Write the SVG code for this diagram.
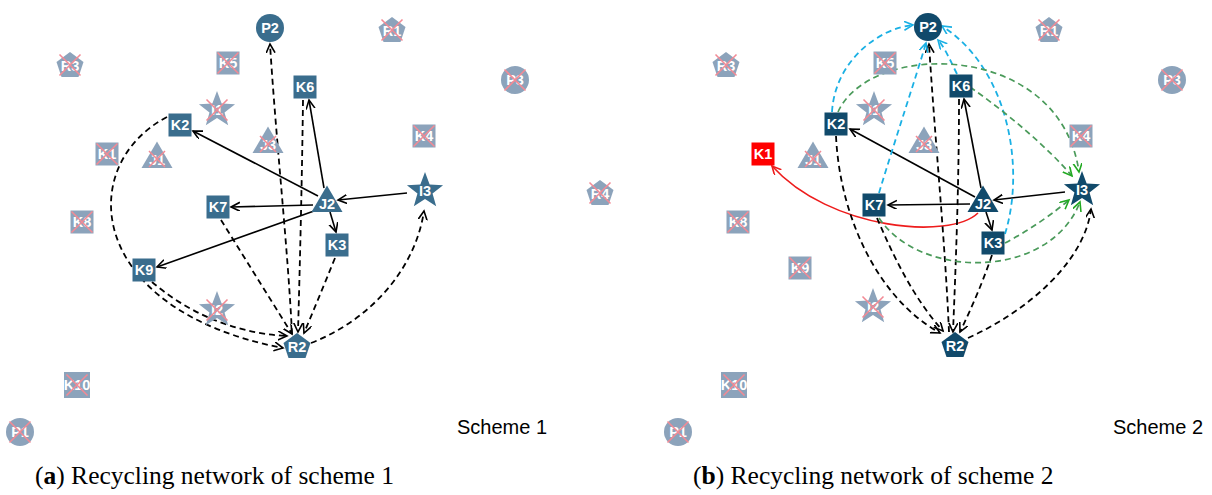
<svg xmlns="http://www.w3.org/2000/svg" xmlns:xlink="http://www.w3.org/1999/xlink" width="1212" height="495" viewBox="0 0 1212 495">
<style>
.a{fill:#3a6d8d}
.b{fill:#114a6b}
.off{fill:#8ca3bb}
.red{fill:#ff0000}
.xk{fill:none;stroke:#f28a95;stroke-width:1.6}
.t{font-family:"Liberation Sans",Arial,sans-serif;font-weight:bold;font-size:14.5px;fill:#ffffff;text-anchor:middle}
.sol{fill:none;stroke:#000;stroke-width:1.6;marker-end:url(#mk)}
.dsh{fill:none;stroke:#000;stroke-width:1.8;stroke-dasharray:6 4;marker-end:url(#mk)}
.cy{fill:none;stroke:#1ab0e4;stroke-width:1.8;stroke-dasharray:6 4;marker-end:url(#mc)}
.gr{fill:none;stroke:#4a9a5a;stroke-width:1.7;stroke-dasharray:6 4;marker-end:url(#mg)}
.rd{fill:none;stroke:#ee1c1c;stroke-width:1.6;marker-end:url(#mr)}
.sch{font-family:"Liberation Sans",Arial,sans-serif;font-size:20px;fill:#000}
.cap{font-family:"Liberation Serif","Times New Roman",serif;font-size:25.5px;fill:#000}
</style>
<defs>
<marker id="mk" markerUnits="userSpaceOnUse" markerWidth="12" markerHeight="12" refX="9" refY="4.5" orient="auto"><path d="M0,0 L9,4.5 L0,9" fill="none" stroke="#000" stroke-width="1.6" stroke-dasharray="none"/></marker>
<marker id="mc" markerUnits="userSpaceOnUse" markerWidth="12" markerHeight="12" refX="9" refY="4.5" orient="auto"><path d="M0,0 L9,4.5 L0,9" fill="none" stroke="#1ab0e4" stroke-width="1.6" stroke-dasharray="none"/></marker>
<marker id="mg" markerUnits="userSpaceOnUse" markerWidth="12" markerHeight="12" refX="9" refY="4.5" orient="auto"><path d="M0,0 L9,4.5 L0,9" fill="none" stroke="#22aa22" stroke-width="1.6" stroke-dasharray="none"/></marker>
<marker id="mr" markerUnits="userSpaceOnUse" markerWidth="12" markerHeight="12" refX="9" refY="4.5" orient="auto"><path d="M0,0 L9,4.5 L0,9" fill="none" stroke="#ee1c1c" stroke-width="1.6" stroke-dasharray="none"/></marker>
<rect id="sq" x="-11.5" y="-11.5" width="23" height="23"/>
<rect id="sqw" x="-13" y="-13" width="26" height="26"/>
<circle id="ci" r="14"/>
<polygon id="pe" points="0,-13 13.5,-3 8.5,12 -8.5,12 -13.5,-3"/>
<polygon id="tr" points="0,-15.5 15.5,11 -15.5,11"/>
<path id="st" d="M0,-19 L4.65,-6.4 L18.07,-5.87 L7.53,2.45 L11.17,15.37 L0,7.9 L-11.17,15.37 L-7.53,2.45 L-18.07,-5.87 L-4.65,-6.4 Z"/>
<path id="x" d="M-10.5,-10.5 L10.5,10.5 M10.5,-10.5 L-10.5,10.5"/>
<path id="xt" d="M-8,-6 L8,10 M8,-6 L-8,10"/>
</defs>
<rect width="1212" height="495" fill="#ffffff"/>

<g id="connectors">
<!-- panel a -->
<path class="sol" d="M318,196 L193,131"/>
<path class="sol" d="M313,205 L231,207"/>
<path class="sol" d="M314,211 L157,267"/>
<path class="sol" d="M324,188 L309,100"/>
<path class="sol" d="M330,212 L336,232"/>
<path class="sol" d="M407,193 L338,200"/>
<path class="dsh" d="M292,334 C288,250 276,140 270,44"/>
<path class="dsh" d="M303,100 C302,180 300,260 298,332"/>
<path class="dsh" d="M221,220 L292,334"/>
<path class="dsh" d="M335,258 Q318,300 304,333"/>
<path class="dsh" d="M152,282 C185,310 230,333 287,336"/>
<path class="dsh" d="M167,117 C75,165 85,310 283,348"/>
<path class="dsh" d="M311,343 C370,320 415,270 424,211"/>
<!-- panel b -->
<path class="sol" d="M975,197 L850,129"/>
<path class="sol" d="M970,204 L888,205"/>
<path class="sol" d="M981,188 L964,99"/>
<path class="sol" d="M986,212 L992,230"/>
<path class="sol" d="M1065,192 L994,200"/>
<path class="rd" d="M978,213 C950,240 830,230 772,166"/>
<path class="dsh" d="M949,332 C945,240 935,140 929,44"/>
<path class="dsh" d="M959,99 C959,180 956,260 953,332"/>
<path class="dsh" d="M836,136 C840,220 880,300 940,333"/>
<path class="dsh" d="M877,218 C895,260 915,300 943,331"/>
<path class="dsh" d="M992,255 C980,290 968,315 960,332"/>
<path class="dsh" d="M968,338 C1030,310 1085,260 1091,209"/>
<path class="cy" d="M832,112 C835,60 880,28 913,25"/>
<path class="cy" d="M879,193 C895,140 915,80 926,43"/>
<path class="cy" d="M957,74 C950,60 945,48 938,40"/>
<path class="cy" d="M1005,234 C1025,170 1010,70 942,26"/>
<path class="gr" d="M838,112 C870,40 1060,40 1079,172"/>
<path class="gr" d="M970,87 C1010,115 1050,150 1072,176"/>
<path class="gr" d="M879,218 C920,280 1050,280 1080,202"/>
<path class="gr" d="M1005,243 C1030,230 1055,212 1069,200"/>
</g>

<!-- panel a nodes -->
<g id="a-P2" transform="translate(270,28)"><use href="#ci" class="a"/><text class="t" y="5">P2</text></g>
<g id="a-R3" transform="translate(70,65)"><use href="#pe" class="off"/><text class="t" y="6">R3</text><use href="#x" class="xk"/></g>
<g id="a-K5" transform="translate(228,63)"><use href="#sq" class="off"/><text class="t" y="5">K5</text><use href="#x" class="xk"/></g>
<g id="a-R1" transform="translate(392,30)"><use href="#pe" class="off"/><text class="t" y="6">R1</text><use href="#x" class="xk"/></g>
<g id="a-P3" transform="translate(515,80)"><use href="#ci" class="off"/><text class="t" y="5">P3</text><use href="#x" class="xk"/></g>
<g id="a-K6" transform="translate(305,87)"><use href="#sq" class="a"/><text class="t" y="5">K6</text></g>
<g id="a-I1" transform="translate(217,110)"><use href="#st" class="off"/><text class="t" y="5">I1</text><use href="#x" class="xk"/></g>
<g id="a-K2" transform="translate(180,125)"><use href="#sq" class="a"/><text class="t" y="5">K2</text></g>
<g id="a-K4" transform="translate(424,136)"><use href="#sq" class="off"/><text class="t" y="5">K4</text><use href="#x" class="xk"/></g>
<g id="a-J3" transform="translate(268,142)"><use href="#tr" class="off"/><text class="t" y="8">J3</text><use href="#xt" class="xk"/></g>
<g id="a-K1" transform="translate(107,154)"><use href="#sq" class="off"/><text class="t" y="5">K1</text><use href="#x" class="xk"/></g>
<g id="a-J1" transform="translate(157,157)"><use href="#tr" class="off"/><text class="t" y="8">J1</text><use href="#xt" class="xk"/></g>
<g id="a-I3" transform="translate(425,191)"><use href="#st" class="a"/><text class="t" y="5">I3</text></g>
<g id="a-R4" transform="translate(600,193)"><use href="#pe" class="off"/><text class="t" y="6">R4</text><use href="#x" class="xk"/></g>
<g id="a-J2" transform="translate(327,201)"><use href="#tr" class="a"/><text class="t" y="8">J2</text></g>
<g id="a-K7" transform="translate(218,207)"><use href="#sq" class="a"/><text class="t" y="5">K7</text></g>
<g id="a-K8" transform="translate(82,222)"><use href="#sq" class="off"/><text class="t" y="5">K8</text><use href="#x" class="xk"/></g>
<g id="a-K3" transform="translate(337,245)"><use href="#sq" class="a"/><text class="t" y="5">K3</text></g>
<g id="a-K9" transform="translate(144,270)"><use href="#sq" class="a"/><text class="t" y="5">K9</text></g>
<g id="a-I2" transform="translate(217,310)"><use href="#st" class="off"/><text class="t" y="5">I2</text><use href="#x" class="xk"/></g>
<g id="a-R2" transform="translate(297,346)"><use href="#pe" class="a"/><text class="t" y="6">R2</text></g>
<g id="a-K10" transform="translate(77,385)"><use href="#sqw" class="off"/><text class="t" y="5">K10</text><use href="#x" class="xk"/></g>
<g id="a-P1" transform="translate(20,432)"><use href="#ci" class="off"/><text class="t" y="5">P1</text><use href="#x" class="xk"/></g>

<!-- panel b nodes -->
<g id="b-P2" transform="translate(928,27)"><use href="#ci" class="b"/><text class="t" y="5">P2</text></g>
<g id="b-R3" transform="translate(726,65)"><use href="#pe" class="off"/><text class="t" y="6">R3</text><use href="#x" class="xk"/></g>
<g id="b-K5" transform="translate(885,63)"><use href="#sq" class="off"/><text class="t" y="5">K5</text><use href="#x" class="xk"/></g>
<g id="b-R1" transform="translate(1049,30)"><use href="#pe" class="off"/><text class="t" y="6">R1</text><use href="#x" class="xk"/></g>
<g id="b-P3" transform="translate(1172,80)"><use href="#ci" class="off"/><text class="t" y="5">P3</text><use href="#x" class="xk"/></g>
<g id="b-K6" transform="translate(961,86)"><use href="#sq" class="b"/><text class="t" y="5">K6</text></g>
<g id="b-I1" transform="translate(874,110)"><use href="#st" class="off"/><text class="t" y="5">I1</text><use href="#x" class="xk"/></g>
<g id="b-K2" transform="translate(836,124)"><use href="#sq" class="b"/><text class="t" y="5">K2</text></g>
<g id="b-K4" transform="translate(1081,136)"><use href="#sq" class="off"/><text class="t" y="5">K4</text><use href="#x" class="xk"/></g>
<g id="b-J3" transform="translate(924,142)"><use href="#tr" class="off"/><text class="t" y="8">J3</text><use href="#xt" class="xk"/></g>
<g id="b-K1" transform="translate(763,154)"><use href="#sq" class="red"/><text class="t" y="5">K1</text></g>
<g id="b-J1" transform="translate(813,157)"><use href="#tr" class="off"/><text class="t" y="8">J1</text><use href="#xt" class="xk"/></g>
<g id="b-I3" transform="translate(1082,190)"><use href="#st" class="b"/><text class="t" y="5">I3</text></g>
<g id="b-J2" transform="translate(983,201)"><use href="#tr" class="b"/><text class="t" y="8">J2</text></g>
<g id="b-K7" transform="translate(874,205)"><use href="#sq" class="b"/><text class="t" y="5">K7</text></g>
<g id="b-K8" transform="translate(738,222)"><use href="#sq" class="off"/><text class="t" y="5">K8</text><use href="#x" class="xk"/></g>
<g id="b-K3" transform="translate(993,243)"><use href="#sq" class="b"/><text class="t" y="5">K3</text></g>
<g id="b-K9" transform="translate(800,268)"><use href="#sq" class="off"/><text class="t" y="5">K9</text><use href="#x" class="xk"/></g>
<g id="b-I2" transform="translate(873,307)"><use href="#st" class="off"/><text class="t" y="5">I2</text><use href="#x" class="xk"/></g>
<g id="b-R2" transform="translate(955,345)"><use href="#pe" class="b"/><text class="t" y="6">R2</text></g>
<g id="b-K10" transform="translate(734,385)"><use href="#sqw" class="off"/><text class="t" y="5">K10</text><use href="#x" class="xk"/></g>
<g id="b-P1" transform="translate(678,432)"><use href="#ci" class="off"/><text class="t" y="5">P1</text><use href="#x" class="xk"/></g>

<text class="sch" x="457" y="434">Scheme 1</text>
<text class="sch" x="1113" y="434">Scheme 2</text>
<text class="cap" x="35" y="484">(<tspan font-weight="bold">a</tspan>) Recycling network of scheme 1</text>
<text class="cap" x="693" y="484">(<tspan font-weight="bold">b</tspan>) Recycling network of scheme 2</text>
</svg>
